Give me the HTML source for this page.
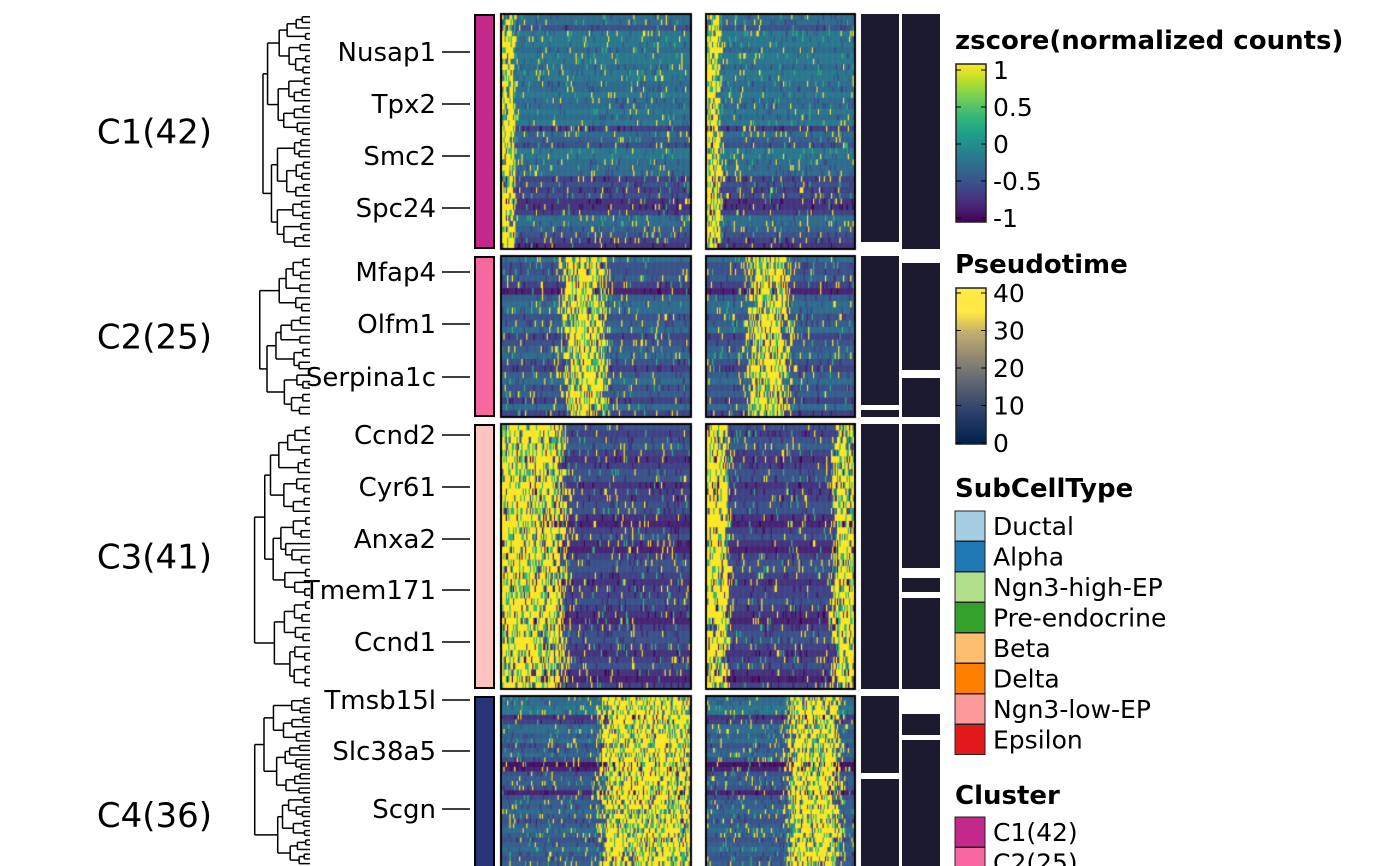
<!DOCTYPE html>
<html><head><meta charset="utf-8"><style>
body{margin:0;background:#fff;width:1400px;height:866px;overflow:hidden;position:relative;font-family:"Liberation Sans","DejaVu Sans",sans-serif}
</style></head><body>
<svg id="dend" width="1400" height="866" style="position:absolute;left:0;top:0"></svg>
<canvas id="hm" width="1400" height="866" style="position:absolute;left:0;top:0"></canvas>
<svg id="ov" width="1400" height="866" style="position:absolute;left:0;top:0"></svg>
<script>
// ---- data ----
const clusterNames=["C1(42)","C2(25)","C3(41)","C4(36)"];
const clusterSizes=[42,25,41,36];
const clusterColors=["#C2298A","#F768A1","#FBC4C0","#283475"];
const clusterTop=[14,256,424,696];
const clusterBottom=[249,417,689,866];
const geneLabels=[["Nusap1","Tpx2","Smc2","Spc24"],["Mfap4","Olfm1","Serpina1c"],["Ccnd2","Cyr61","Anxa2","Tmem171","Ccnd1"],["Tmsb15l","Slc38a5","Scgn","Ins1"]];
const geneY=[[52,104,156,208],[272,324,377],[435,487,539,590,642],[700,751,809,884]];
const peakA=[[0,0.07],[0.33,0.55],[0,0.33],[0.52,1.0]];
const peakB=[[0,0.1],[0.28,0.55],[0,0.15],[0.55,0.9]];
const peakB2=[[0,0],[0,0],[0.85,1.0],[0,0]];
const rowBase=[
[-0.3,-0.3,-0.5,-0.2,-0.2,-0.2,-0.3,-0.2,-0.2,-0.3,-0.2,-0.2,-0.3,-0.3,-0.2,-0.3,-0.3,-0.2,-0.3,-0.2,-0.6,-0.3,-0.4,-0.5,-0.2,-0.2,-0.3,-0.3,-0.3,-0.6,-0.5,-0.6,-0.5,-0.7,-0.7,-0.6,-0.3,-0.3,-0.4,-0.5,-0.6,-0.7],
[-0.3,-0.5,-0.5,-0.4,-0.6,-0.8,-0.4,-0.3,-0.3,-0.5,-0.4,-0.3,-0.6,-0.5,-0.4,-0.3,-0.5,-0.6,-0.4,-0.3,-0.5,-0.4,-0.6,-0.3,-0.6],
[-0.5,-0.6,-0.5,-0.4,-0.6,-0.7,-0.6,-0.5,-0.5,-0.7,-0.6,-0.6,-0.5,-0.5,-0.7,-0.8,-0.6,-0.5,-0.7,-0.8,-0.6,-0.5,-0.5,-0.6,-0.7,-0.6,-0.6,-0.5,-0.6,-0.7,-0.8,-0.6,-0.5,-0.5,-0.6,-0.7,-0.6,-0.5,-0.7,-0.8,-0.6],
[-0.3,-0.3,-0.2,-0.2,-0.7,-0.6,-0.3,-0.3,-0.4,-0.3,-0.5,-0.4,-0.3,-0.5,-0.9,-0.8,-0.5,-0.4,-0.4,-0.5,-0.8,-0.5,-0.4,-0.4,-0.3,-0.4,-0.5,-0.4,-0.3,-0.4,-0.5,-0.4,-0.3,-0.4,-0.5,-0.4]
];
const zTicks=["1","0.5","0","-0.5","-1"];
const pTicks=["40","30","20","10","0"];
const subTypes=["Ductal","Alpha","Ngn3-high-EP","Pre-endocrine","Beta","Delta","Ngn3-low-EP","Epsilon"];
const subColors=["#A6CEE3","#1F78B4","#B2DF8A","#33A02C","#FDBF6F","#FF7F00","#FB9A99","#E31A1C"];
// ---- helpers ----
const V=[[68,1,84],[72,40,120],[62,74,137],[49,104,142],[38,130,142],[31,158,137],[53,183,121],[109,205,89],[180,222,44],[253,231,37]];
function vir(v){let t=Math.max(0,Math.min(1,(v+1)/2))*9,i=Math.min(8,Math.floor(t)),f=t-i;const a=V[i],b=V[i+1];return `rgb(${a.map((c,k)=>Math.round(c+(b[k]-c)*f)).join(',')})`;}
function h(a,b,c){let x=(a*374761393+b*668265263+c*2147483647)|0;x=(x^(x>>>13))*1274126177|0;x=x^(x>>>16);return ((x>>>0)%10000)/10000;}
const ns="http://www.w3.org/2000/svg";
function S(p,tag,at,txt){const e=document.createElementNS(ns,tag);for(const k in at)e.setAttribute(k,at[k]);if(txt!=null)e.textContent=txt;p.appendChild(e);return e;}
const FF='DejaVu Sans, sans-serif';
// ---- heatmap ----
const ctx=document.getElementById('hm').getContext('2d');
const HA=[501,691],HB=[706,855];
function prob(f,r){if(r[1]<=r[0])return 0;const w=r[1]-r[0],e=Math.min(0.06,w*0.25);
 if(f>=r[0]&&f<r[1]){const d=Math.min(f-r[0]+(r[0]<=0?1:0),r[1]-f+(r[1]>=1?1:0));return d<e?0.35+0.3*d/e:0.65;}
 const d=f<r[0]?r[0]-f:f-r[1];return d<e?0.3*(1-d/e):0;}
for(let c=0;c<4;c++){
 const n=clusterSizes[c],y0=clusterTop[c],y1=clusterBottom[c],rh=(y1-y0)/n;
 for(const [hx,pk,pk2,id] of [[HA,peakA[c],[0,0],1],[HB,peakB[c],peakB2[c],2]]){
  const w=hx[1]-hx[0],nc=Math.round(w/1.2);
  for(let r=0;r<n;r++){
   const base=rowBase[c][r%rowBase[c].length];
   for(let j=0;j<nc;j++){
    const f=j/nc;let v=base;const q=h(c*100+r,j,id);
    const p=Math.max(prob(f,pk),prob(f,pk2));
    if(q<p) v=1; else if(q<p*1.3) v=0.3;
    else if(q<0.04) v=1; else if(q<0.07) v=0.3; else if(q>0.93) v=base-0.3;
    ctx.fillStyle=vir(v);
    ctx.fillRect(hx[0]+j*w/nc,y0+r*rh,w/nc+0.6,rh+0.6);
   }
  }
  ctx.strokeStyle="#000";ctx.lineWidth=2;ctx.strokeRect(hx[0],y0,w,(c==3?880:y1)-y0);
 }
}
// ---- overlays ----
const ov=document.getElementById('ov');
for(let c=0;c<4;c++){
 const y0=clusterTop[c],y1=clusterBottom[c];
 const cl=S(ov,'text',{x:212,y:(c==3?815:(y0+y1)/2)+12,'text-anchor':'end','font-size':34,'font-family':FF,fill:'#000'},clusterNames[c]);
 
 const ab=S(ov,'rect',{x:475,y:y0+1,width:19,height:(c==3?875:y1)-y0-2,fill:clusterColors[c],stroke:'#000','stroke-width':2});
 
 geneLabels[c].forEach((g,i)=>{const y=geneY[c][i];
  const t=S(ov,'text',{x:436,y:y+9,'text-anchor':'end','font-size':26,'font-family':FF},g);
  
  S(ov,'line',{x1:442,x2:470,y1:y,y2:y,stroke:'#000','stroke-width':1.5});});
}
const bar1=[[14,242],[256,405],[410,417],[424,689],[696,773],[779,866]];
const bar2=[[14,249],[263,370],[378,417],[424,568],[578,592],[598,689],[714,735],[740,866]];
bar1.forEach(s=>{const r=S(ov,'rect',{x:861,y:s[0],width:38,height:s[1]-s[0],fill:'#1B1A2F'});});
bar2.forEach(s=>{const r=S(ov,'rect',{x:902,y:s[0],width:38,height:s[1]-s[0],fill:'#1B1A2F'});});
function title(y,txt,name){const t=S(ov,'text',{x:955,y:y,'font-size':26,'font-weight':'bold','font-family':FF},txt);}
title(49,"zscore(normalized counts)","zscore-legend-title");
const defs=S(ov,'defs',{});
const g1=S(defs,'linearGradient',{id:'gz',x1:0,y1:1,x2:0,y2:0});
for(let i=0;i<10;i++)S(g1,'stop',{offset:i/9,'stop-color':`rgb(${V[i].join(',')})`});
const g2=S(defs,'linearGradient',{id:'gp',x1:0,y1:1,x2:0,y2:0});
[["0","#00204D"],["0.2","#2B3E6A"],["0.45","#707173"],["0.7","#BCAA6E"],["0.85","#FFE945"],["1","#FFEA46"]].forEach(s=>S(g2,'stop',{offset:s[0],'stop-color':s[1]}));
const zb=S(ov,'rect',{x:956,y:64,width:30,height:158,fill:'url(#gz)',stroke:'#222','stroke-width':1.5});
zTicks.forEach((t,i)=>{const y=70+i*37;S(ov,'line',{x1:956,x2:961,y1:y,y2:y,stroke:'#000'});S(ov,'line',{x1:981,x2:986,y1:y,y2:y,stroke:'#000'});
 const e=S(ov,'text',{x:993,y:y+9,'font-size':25,'font-family':FF},t);});
title(273,"Pseudotime","pseudotime-legend-title");
const pb=S(ov,'rect',{x:956,y:288,width:30,height:156,fill:'url(#gp)',stroke:'#222','stroke-width':1.5});
pTicks.forEach((t,i)=>{const y=293+i*37.5;S(ov,'line',{x1:956,x2:961,y1:y,y2:y,stroke:'#000'});S(ov,'line',{x1:981,x2:986,y1:y,y2:y,stroke:'#000'});
 const e=S(ov,'text',{x:993,y:y+9,'font-size':25,'font-family':FF},t);});
title(497,"SubCellType","subcelltype-legend-title");
subTypes.forEach((s,i)=>{const y=511+i*30.5;S(ov,'rect',{x:955,y:y,width:30,height:30,fill:subColors[i],stroke:'#222','stroke-width':1});
 const e=S(ov,'text',{x:993,y:y+24,'font-size':25,'font-family':FF},s);});
title(804,"Cluster","cluster-legend-title");
clusterNames.forEach((s,i)=>{const y=817+i*30.5;S(ov,'rect',{x:955,y:y,width:30,height:30,fill:clusterColors[i],stroke:'#222','stroke-width':1});
 const e=S(ov,'text',{x:993,y:y+24,'font-size':25,'font-family':FF},s);});
// dendrograms
const dg=document.getElementById('dend');
const dmins=[243,246,236,231];
for(let c=0;c<4;c++){
 const n=clusterSizes[c],y0=clusterTop[c],rh=(clusterBottom[c]-y0)/n;
 function tr(lo,hi){if(hi-lo<=1)return [y0+(lo+0.5)*rh,310];
  const sp=lo+Math.max(1,Math.round((hi-lo)*(0.35+0.3*h(c,lo,hi))));
  const a=tr(lo,sp),b=tr(sp,hi);const x=Math.max(dmins[c],Math.min(a[1],b[1])-(4+7*h(c,hi,lo)));
  S(dg,'line',{x1:x,x2:a[1],y1:a[0],y2:a[0],stroke:'#000','stroke-width':1.5});
  S(dg,'line',{x1:x,x2:b[1],y1:b[0],y2:b[0],stroke:'#000','stroke-width':1.5});
  S(dg,'line',{x1:x,x2:x,y1:a[0],y2:b[0],stroke:'#000','stroke-width':1.5});
  return [(a[0]+b[0])/2,x];}
 tr(0,n);
}
</script>
</body></html>
